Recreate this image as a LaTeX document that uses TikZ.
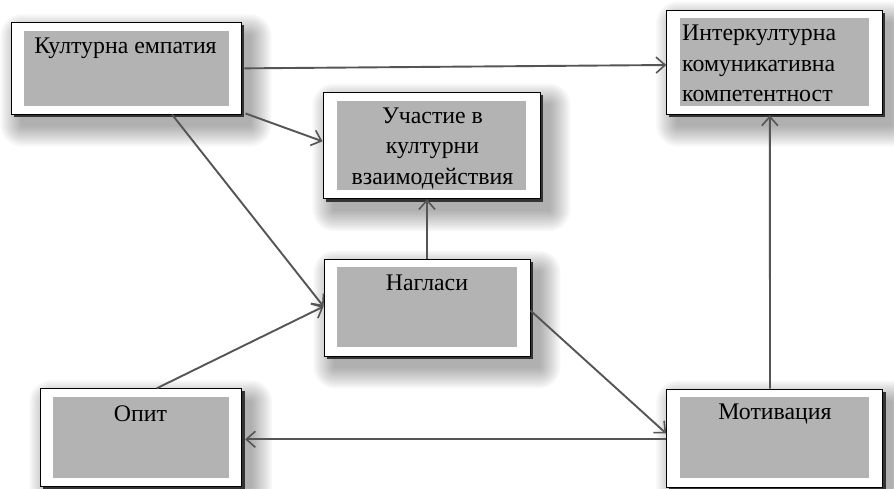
\documentclass[tikz,border=0pt]{standalone}
\usepackage{fontspec}
\setmainfont{Liberation Serif}
\usetikzlibrary{arrows.meta}
\definecolor{boxgray}{HTML}{B3B3B3}
\definecolor{linegray}{HTML}{555555}
\pgfdeclarelayer{bg}
\pgfsetlayers{bg,main}
\newcommand\softshade[1]{%
  \foreach \e in {2,4,...,22}{%
    \fill[black,opacity=0.032,rounded corners=\e pt] ([shift={(12-\e,14-\e)}]#1.north west) rectangle ([shift={(8+\e,10+\e)}]#1.south east);
  }%
  \fill[black!80] ([shift={(3,3)}]#1.north west) rectangle ([shift={(3,3)}]#1.south east);
}
\tikzset{
  outerbox/.style={draw=black, line width=0.9pt, fill=white, inner sep=0pt},
  innerbox/.style={fill=boxgray, inner sep=0pt},
  lbl/.style={font=\fontsize{23.8}{30.5}\selectfont, inner sep=0pt, text=black},
  conn/.style={draw=linegray, line width=1.9pt, -{Straight Barb[length=9pt,width=16pt,line width=1.6pt]}}
}
\begin{document}
\begin{tikzpicture}[x=1pt,y=-1pt]
\useasboundingbox (0,0) rectangle (894,488);
% outer boxes
\node[outerbox, minimum width=230pt, minimum height=91.3pt] (ke) at (126,68.35) {};
\node[outerbox, minimum width=217pt, minimum height=106.7pt] (up) at (431.5,145.35) {};
\node[outerbox, minimum width=215.3pt, minimum height=104pt] (ik) at (774.35,62) {};
\node[outerbox, minimum width=206pt, minimum height=97pt] (ng) at (427,307.5) {};
\node[outerbox, minimum width=201.7pt, minimum height=98pt] (op) at (140.85,437.7) {};
\node[outerbox, minimum width=215.6pt, minimum height=98pt] (mo) at (774.5,438) {};
\begin{pgfonlayer}{bg}
\fill[white] (0,0) rectangle (894,488);
\softshade{ke}\softshade{up}\softshade{ik}\softshade{ng}\softshade{op}\softshade{mo}
\end{pgfonlayer}
% inner gray areas
\node[innerbox, minimum width=205pt, minimum height=75pt] (kei) at (126.5,68.2) {};
\node[innerbox, minimum width=189pt, minimum height=89.3pt] (upi) at (431.5,145.35) {};
\node[innerbox, minimum width=189pt, minimum height=88pt] (iki) at (774.5,62) {};
\node[innerbox, minimum width=180pt, minimum height=80pt] (ngi) at (427,307) {};
\node[innerbox, minimum width=176.3pt, minimum height=81pt] (opi) at (140.85,437.5) {};
\node[innerbox, minimum width=189pt, minimum height=81.3pt] (moi) at (774.5,437.35) {};
% texts
\node[lbl, anchor=base] (ket) at (125.5,53) {Културна емпатия};
\node[lbl, anchor=base, align=center] (upt) at (432.5,184) {Участие в\\културни\\взаимодействия};
\node[lbl, anchor=base west, align=left] (ikt) at (682,101.7) {Интеркултурна\\комуникативна\\компетентност};
\node[lbl, anchor=base] (ngt) at (427,290) {Нагласи};
\node[lbl, anchor=base] (opt) at (140.5,421.7) {Опит};
\node[lbl, anchor=base] (mot) at (775,419.3) {Мотивация};
% connectors
\draw[conn] ([shift={(3,0)}]ke.east) -- ([shift={(0,3)}]ik.west);
\draw[conn] ([shift={(4,-1)}]ke.south east) -- ([shift={(0,-4)}]up.west);
\draw[conn] ([shift={(46,0)}]ke.south) -- ([shift={(0,-1)}]ng.west);
\draw[conn] ([shift={(16,0)}]op.north) -- ([shift={(0,-1)}]ng.west);
\draw[conn] (ng.north) -- (ng.north |- up.south);
\draw[conn] ([shift={(0,3)}]ng.east) -- ([shift={(0,-4.5)}]mo.west);
\draw[conn] ([shift={(0,1.3)}]mo.west) -- ([shift={(3,1.6)}]op.east);
\draw[conn] ([shift={(-4.5,0)}]mo.north) -- ([shift={(-4.5,1)}]ik.south);
\end{tikzpicture}
\end{document}
